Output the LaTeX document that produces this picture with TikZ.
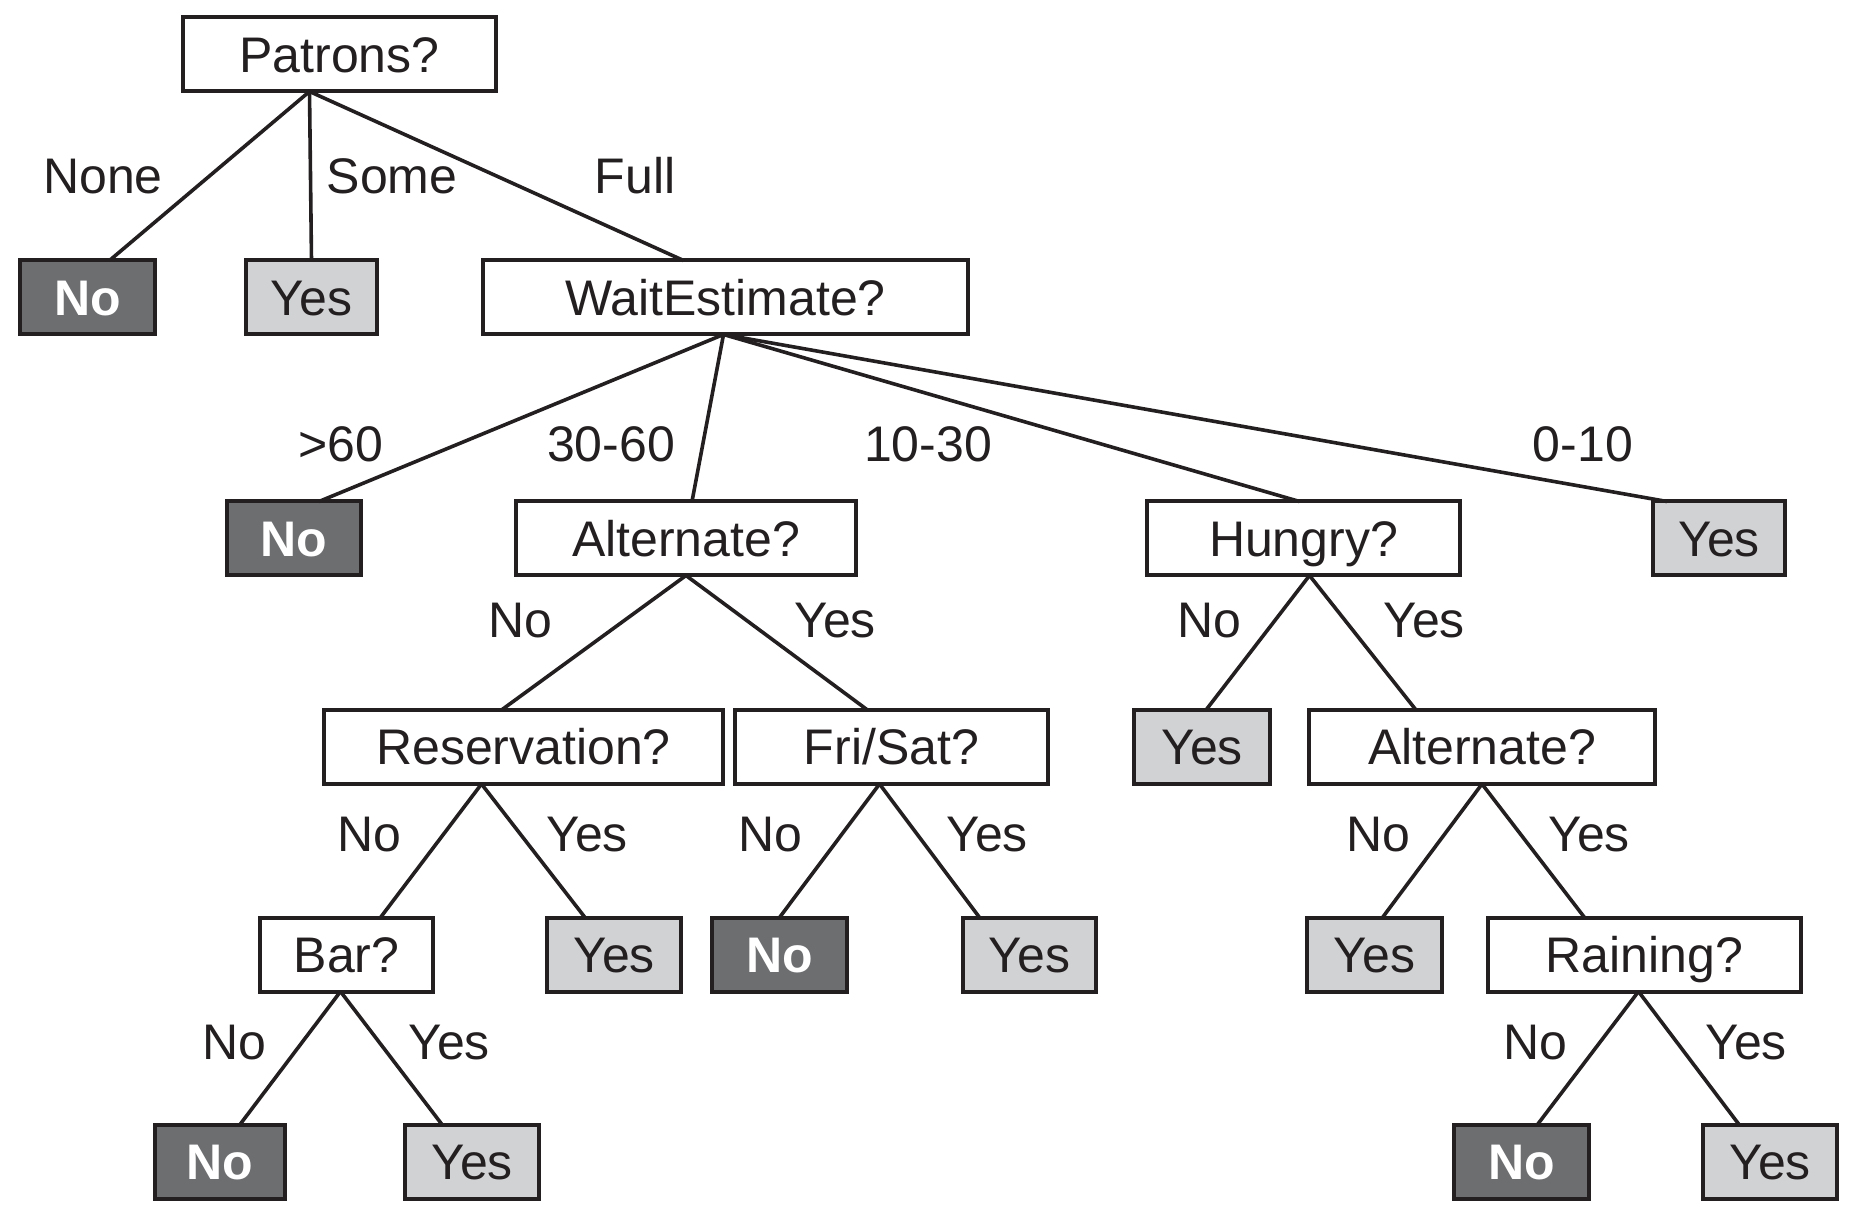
\documentclass[tikz,border=0pt]{standalone}
\usepackage{fontspec}
\setmainfont{Liberation Sans}
\definecolor{ink}{HTML}{231F20}
\definecolor{darkleaf}{HTML}{6D6E70}
\definecolor{lightleaf}{HTML}{D1D2D4}
\begin{document}
\begin{tikzpicture}[x=0.5pt,y=-0.5pt,
  every node/.style={font=\fontsize{25}{30}\selectfont, inner sep=0pt, outer sep=0pt, text height=17.8pt, text depth=0pt},
  qbox/.style={draw=ink, line width=2pt, fill=white, minimum height=37pt, text=ink},
  noleaf/.style={draw=ink, line width=2pt, fill=darkleaf, minimum height=37pt, text=white, font=\fontsize{25}{30}\selectfont\bfseries},
  yesleaf/.style={draw=ink, line width=2pt, fill=lightleaf, minimum height=37pt, text=ink},
  edge/.style={draw=ink, line width=1.8pt},
  elabel/.style={text=ink}]
\useasboundingbox (0,0) rectangle (1852,1218);

% level 0
\node[qbox, minimum width=156.5pt] (patrons) at (339.5,54.5) {Patrons?};
% level 1
\node[noleaf, minimum width=67.5pt] (no1) at (87.5,297.5) {No};
\node[yesleaf, minimum width=65.5pt] (yes1) at (311.5,297.5) {Yes};
\node[qbox, minimum width=242.5pt] (wait) at (725.5,297.5) {WaitEstimate?};
% level 2
\node[noleaf, minimum width=67pt] (no2) at (294,538.5) {No};
\node[qbox, minimum width=170pt] (alt) at (686,538.5) {Alternate?};
\node[qbox, minimum width=156.5pt] (hungry) at (1303.5,538.5) {Hungry?};
\node[yesleaf, minimum width=66pt] (yes2) at (1719,538.5) {Yes};
% level 3
\node[qbox, minimum width=199.5pt] (res) at (523.5,747) {Reservation?};
\node[qbox, minimum width=156.5pt] (fri) at (891.5,747) {Fri/Sat?};
\node[yesleaf, minimum width=68pt] (yes3) at (1202,747) {Yes};
\node[qbox, minimum width=173pt] (alt2) at (1482,747) {Alternate?};
% level 4
\node[qbox, minimum width=86.5pt] (bar) at (346.5,954.5) {Bar?};
\node[yesleaf, minimum width=67pt] (yes4) at (614,954.5) {Yes};
\node[noleaf, minimum width=67.5pt] (no4) at (779.5,954.5) {No};
\node[yesleaf, minimum width=66.5pt] (yes5) at (1029.5,954.5) {Yes};
\node[yesleaf, minimum width=67.5pt] (yes6) at (1374.5,954.5) {Yes};
\node[qbox, minimum width=156.5pt] (rain) at (1644.5,954.5) {Raining?};
% level 5
\node[noleaf, minimum width=65pt] (no5) at (220,1161.5) {No};
\node[yesleaf, minimum width=67pt] (yes7) at (472,1161.5) {Yes};
\node[noleaf, minimum width=67.5pt] (no6) at (1521.5,1161.5) {No};
\node[yesleaf, minimum width=67pt] (yes8) at (1770,1161.5) {Yes};

% edges
\path[edge] ([xshift=-15pt]patrons.south) -- ([xshift=11pt]no1.north);
\path[edge] ([xshift=-15pt]patrons.south) -- (yes1.north);
\path[edge] ([xshift=-15pt]patrons.south) -- ([xshift=-21pt]wait.north);
\path[edge] ([xshift=-1pt]wait.south) -- ([xshift=12.5pt]no2.north);
\path[edge] ([xshift=-1pt]wait.south) -- ([xshift=3pt]alt.north);
\path[edge] ([xshift=-1pt]wait.south) -- ([xshift=-2pt]hungry.north);
\path[edge] ([xshift=-1pt]wait.south) -- ([xshift=-26pt]yes2.north);
\path[edge] (alt.south) -- ([xshift=-11pt]res.north);
\path[edge] (alt.south) -- ([xshift=-12pt]fri.north);
\path[edge] ([xshift=3pt]hungry.south) -- ([xshift=2pt]yes3.north);
\path[edge] ([xshift=3pt]hungry.south) -- ([xshift=-33pt]alt2.north);
\path[edge] ([xshift=-21pt]res.south) -- ([xshift=17pt]bar.north);
\path[edge] ([xshift=-21pt]res.south) -- ([xshift=-14.5pt]yes4.north);
\path[edge] ([xshift=-6pt]fri.south) -- (no4.north);
\path[edge] ([xshift=-6pt]fri.south) -- ([xshift=-25pt]yes5.north);
\path[edge] (alt2.south) -- ([xshift=4pt]yes6.north);
\path[edge] (alt2.south) -- ([xshift=-30pt]rain.north);
\path[edge] ([xshift=-3pt]bar.south) -- ([xshift=10pt]no5.north);
\path[edge] ([xshift=-3pt]bar.south) -- ([xshift=-15pt]yes7.north);
\path[edge] ([xshift=-3pt]rain.south) -- ([xshift=8pt]no6.north);
\path[edge] ([xshift=-3pt]rain.south) -- ([xshift=-15.5pt]yes8.north);

% edge labels
\node[elabel] (lnone) at (103,176) {None};
\node[elabel] (lsome) at (392,176) {Some};
\node[elabel] (lfull) at (635,176) {Full};
\node[elabel] (lgt60) at (341,444) {>60};
\node[elabel] (l3060) at (611,444) {30-60};
\node[elabel] (l1030) at (928,444) {10-30};
\node[elabel] (l010) at (1583,444) {0-10};
\node[elabel] (laltno) at (520,620) {No};
\node[elabel] (laltyes) at (835,620) {Yes};
\node[elabel] (lhunno) at (1209,620) {No};
\node[elabel] (lhunyes) at (1424,620) {Yes};
\node[elabel] (lresno) at (369,834) {No};
\node[elabel] (lresyes) at (587,834) {Yes};
\node[elabel] (lfrino) at (770,834) {No};
\node[elabel] (lfriyes) at (987,834) {Yes};
\node[elabel] (lalt2no) at (1378,834) {No};
\node[elabel] (lalt2yes) at (1589,834) {Yes};
\node[elabel] (lbarno) at (234,1042) {No};
\node[elabel] (lbaryes) at (449,1042) {Yes};
\node[elabel] (lrainno) at (1535,1042) {No};
\node[elabel] (lrainyes) at (1746,1042) {Yes};
\end{tikzpicture}
\end{document}
